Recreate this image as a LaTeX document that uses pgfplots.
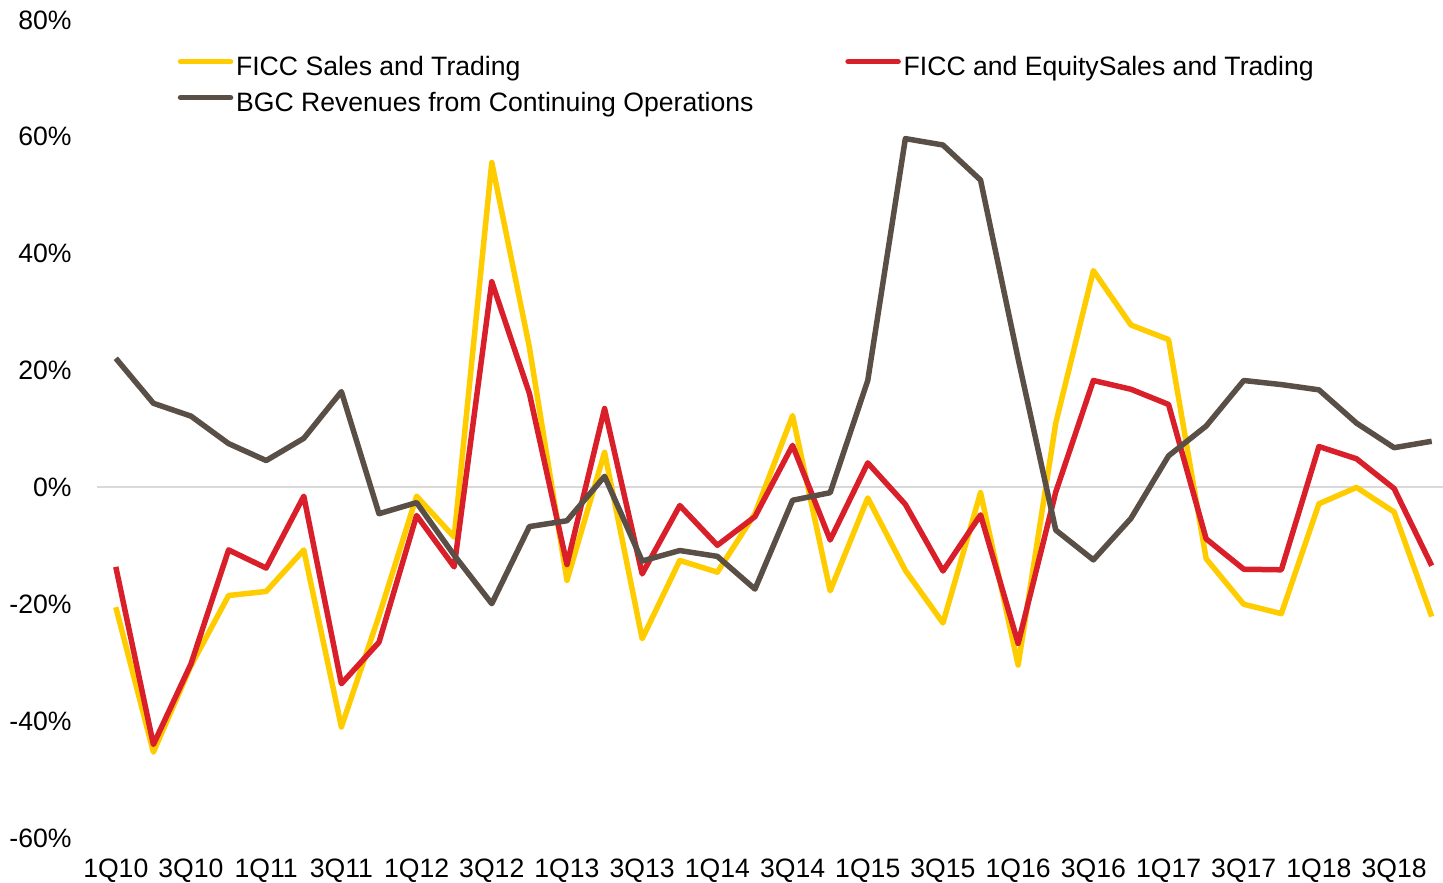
\documentclass[border=0pt]{standalone}
\usepackage{fontspec}
\setmainfont{Liberation Sans}
\usepackage{pgfplots}
\usepackage{pgfplotstable}
\pgfplotsset{compat=1.18}

\definecolor{ficc}{HTML}{FFCC00}
\definecolor{ficceq}{HTML}{D9202A}
\definecolor{bgc}{HTML}{5A4F46}
\definecolor{zeroline}{HTML}{D9D9D9}

% quarter index 0 = 1Q10 ... 35 = 4Q18, year-over-year growth in %
\pgfplotstableread{
q  ficc   ficceq  bgc
0  -20.5  -13.6   22.1
1  -45.3  -44.0   14.4
2  -30.5  -30.2   12.2
3  -18.5  -10.7    7.5
4  -17.8  -13.8    4.6
5  -10.7   -1.5    8.4
6  -41.0  -33.6   16.4
7  -22.0  -26.5   -4.5
8   -1.5   -4.8   -2.6
9   -8.5  -13.6  -11.6
10  55.6   35.2  -19.9
11  24.0   16.1   -6.7
12 -15.9  -13.2   -5.7
13   6.0   13.5    1.9
14 -25.9  -14.8  -12.6
15 -12.5   -3.1  -10.8
16 -14.5   -9.9  -11.8
17  -4.5   -5.0  -17.4
18  12.3    7.2   -2.2
19 -17.7   -9.0   -0.9
20  -1.8    4.2   18.3
21 -14.2   -2.9   59.7
22 -23.2  -14.3   58.6
23  -0.9   -4.7   52.6
24 -30.4  -26.7   22.0
25  11.0   -0.8   -7.3
26  37.1   18.3  -12.4
27  27.8   16.8   -5.3
28  25.3   14.2    5.4
29 -12.2   -8.8   10.5
30 -20.0  -14.0   18.3
31 -21.6  -14.1   17.6
32  -2.8    7.0   16.7
33   0.0    4.9   11.0
34  -4.2   -0.2    6.8
35 -22.1  -13.4    7.9
}\growth

\begin{document}
\begin{tikzpicture}
\begin{axis}[
    at={(0,0)}, anchor=south west,
    scale only axis,
    width=673pt, height=409pt,
    xmin=-0.5, xmax=35.3,
    ymin=-60, ymax=80,
    axis line style={draw=none},
    major tick length=0pt,
    xtick={0,2,...,34},
    xticklabels={1Q10,3Q10,1Q11,3Q11,1Q12,3Q12,1Q13,3Q13,1Q14,3Q14,1Q15,3Q15,1Q16,3Q16,1Q17,3Q17,1Q18,3Q18},
    ytick={-60,-40,...,80},
    yticklabels={-60\%,-40\%,-20\%,0\%,20\%,40\%,60\%,80\%},
    tick label style={font=\fontsize{13.3}{15}\selectfont, inner sep=0pt},
    xticklabel style={anchor=north, yshift=-10.3pt},
    yticklabel style={anchor=east, xshift=-12.5pt},
    extra y ticks={0},
    extra y tick labels={},
    extra y tick style={grid=major, major grid style={draw=zeroline, line width=1pt}},
    legend columns=2,
    legend cell align=left,
    legend style={
        at={(axis description cs:0,1)}, anchor=north west,
        xshift=39pt, yshift=-18.1pt,
        draw=none, fill=none, inner sep=0pt, outer sep=0pt,
        font=\fontsize{13.3}{15}\selectfont,
        nodes={inner sep=0pt, text height=9.8pt, text depth=2.8pt},
        row sep=5.4pt,
        /tikz/every even column/.append style={column sep=44.5pt},
    },
    legend image code/.code={
        \path (0pt,0pt) (27.8pt,0pt);
        \draw[#1, line width=2.75pt, line cap=round] (1.4pt,0.36em) -- (26.4pt,0.36em);
    },
    every axis plot/.append style={line width=2.75pt, line join=round, no markers},
]
\addplot[ficc] table[x=q, y=ficc] {\growth};
\addplot[ficceq] table[x=q, y=ficceq] {\growth};
\addplot[bgc] table[x=q, y=bgc] {\growth};
\legend{FICC Sales and Trading, FICC and EquitySales and Trading, BGC Revenues from Continuing Operations}
\end{axis}
\pgfresetboundingbox
\path (-48.5pt,-22pt) rectangle (673pt,419pt);
\end{tikzpicture}
\end{document}
